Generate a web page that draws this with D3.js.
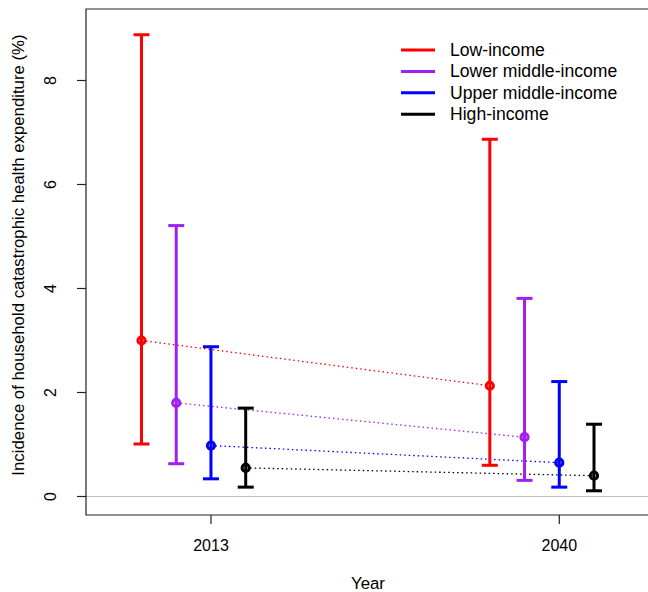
<!DOCTYPE html>
<html>
<head>
<meta charset="utf-8">
<script src="https://cdn.jsdelivr.net/npm/d3@7"></script>
<style>
  body { margin: 0; background: #fff; }
  text { font-family: "Liberation Sans", Arial, sans-serif; fill: #000; }
</style>
</head>
<body>
<div id="chart"></div>
<script>
var years = [2013, 2040];
var groups = ["Low-income", "Lower middle-income", "Upper middle-income", "High-income"];
var colors = ["#ff0000", "#a020f0", "#0000ff", "#000000"];
// point estimate, lower bound, upper bound per group, for 2013 and 2040
var est2013 = [3.0, 1.80, 0.98, 0.55];
var low2013 = [1.01, 0.63, 0.34, 0.18];
var high2013 = [8.88, 5.21, 2.88, 1.70];
var est2040 = [2.13, 1.14, 0.65, 0.40];
var low2040 = [0.60, 0.31, 0.18, 0.11];
var high2040 = [6.87, 3.81, 2.21, 1.39];
var yTicks = [0, 2, 4, 6, 8];

var width = 648, height = 592;

var svg = d3.select("#chart").append("svg")
  .attr("width", width)
  .attr("height", height);

var x = d3.scaleLinear().domain([2013, 2040]).range([211, 559.3]);
var offset = d3.scalePoint().domain(groups).range([-69.5, 34.7]);
var y = d3.scaleLinear().domain([0, 8]).range([496.5, 80.5]);

var plotLeft = 86, plotTop = 9, plotBottom = 515, plotRight = 652;

// zero reference line
svg.append("line")
  .attr("x1", plotLeft).attr("x2", plotRight)
  .attr("y1", y(0)).attr("y2", y(0))
  .attr("stroke", "#bebebe").attr("stroke-width", 1.2);

// box
svg.append("path")
  .attr("d", "M" + plotRight + "," + plotTop + "H" + plotLeft + "V" + plotBottom + "H" + plotRight)
  .attr("fill", "none").attr("stroke", "#222").attr("stroke-width", 1.2);

// y axis
var yAxis = svg.append("g");
yTicks.forEach(function (t) {
  yAxis.append("line")
    .attr("x1", plotLeft - 9).attr("x2", plotLeft)
    .attr("y1", y(t)).attr("y2", y(t))
    .attr("stroke", "#222").attr("stroke-width", 1.2);
  yAxis.append("text")
    .attr("transform", "translate(56," + y(t) + ") rotate(-90)")
    .attr("text-anchor", "middle")
    .style("font-size", "16px")
    .text(t);
});

// x axis
years.forEach(function (yr) {
  svg.append("line")
    .attr("x1", x(yr)).attr("x2", x(yr))
    .attr("y1", plotBottom).attr("y2", plotBottom + 9)
    .attr("stroke", "#222").attr("stroke-width", 1.2);
  svg.append("text")
    .attr("x", x(yr)).attr("y", 551)
    .attr("text-anchor", "middle")
    .style("font-size", "16px")
    .text(yr);
});

svg.append("text")
  .attr("x", 368).attr("y", 589)
  .attr("text-anchor", "middle")
  .style("font-size", "16.8px")
  .text("Year");

svg.append("text")
  .attr("transform", "translate(24,255) rotate(-90)")
  .attr("text-anchor", "middle")
  .style("font-size", "16.8px")
  .text("Incidence of household catastrophic health expenditure (%)");

var data = groups.map(function (g, i) {
  return {
    group: g, color: colors[i],
    values: [
      { year: 2013, est: est2013[i], lo: low2013[i], hi: high2013[i] },
      { year: 2040, est: est2040[i], lo: low2040[i], hi: high2040[i] }
    ]
  };
});

// dotted trend lines
svg.selectAll(".trend")
  .data(data)
  .enter().append("line")
  .attr("class", "trend")
  .attr("x1", function (d) { return x(2013) + offset(d.group); })
  .attr("x2", function (d) { return x(2040) + offset(d.group); })
  .attr("y1", function (d) { return y(d.values[0].est); })
  .attr("y2", function (d) { return y(d.values[1].est); })
  .attr("stroke", function (d) { return d.color; })
  .attr("stroke-width", 1.3)
  .attr("stroke-dasharray", "1.5,3");

var bars = svg.selectAll(".series")
  .data(data)
  .enter().append("g")
  .attr("class", "series")
  .attr("stroke", function (d) { return d.color; })
  .selectAll("g")
  .data(function (d) { return d.values.map(function (v) { return Object.assign({ group: d.group }, v); }); })
  .enter().append("g");

bars.append("line")
  .attr("x1", function (d) { return x(d.year) + offset(d.group); })
  .attr("x2", function (d) { return x(d.year) + offset(d.group); })
  .attr("y1", function (d) { return y(d.lo); })
  .attr("y2", function (d) { return y(d.hi); })
  .attr("stroke-width", 3);

[["lo"], ["hi"]].forEach(function (k) {
  bars.append("line")
    .attr("x1", function (d) { return x(d.year) + offset(d.group) - 8; })
    .attr("x2", function (d) { return x(d.year) + offset(d.group) + 8; })
    .attr("y1", function (d) { return y(d[k[0]]); })
    .attr("y2", function (d) { return y(d[k[0]]); })
    .attr("stroke-width", 3);
});

bars.append("circle")
  .attr("cx", function (d) { return x(d.year) + offset(d.group); })
  .attr("cy", function (d) { return y(d.est); })
  .attr("r", 3.6)
  .attr("fill", "none")
  .attr("stroke-width", 3);

// legend
var legend = svg.selectAll(".legend")
  .data(data)
  .enter().append("g")
  .attr("class", "legend")
  .attr("transform", function (d, i) { return "translate(401," + (50 + i * 21.4) + ")"; });

legend.append("line")
  .attr("x1", 0).attr("x2", 34)
  .attr("stroke", function (d) { return d.color; })
  .attr("stroke-width", 3);

legend.append("text")
  .attr("x", 49).attr("y", 6)
  .style("font-size", "17.6px")
  .text(function (d) { return d.group; });
</script>
</body>
</html>
